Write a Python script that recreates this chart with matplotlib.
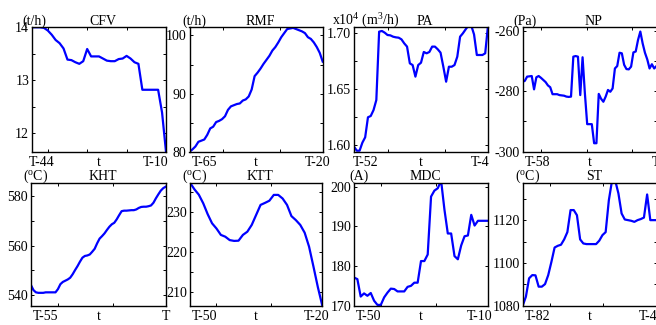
import numpy as np
import matplotlib
matplotlib.use("Agg")
import matplotlib.pyplot as plt

plt.rcParams['font.family'] = ['Liberation Serif', 'DejaVu Serif']
plt.rcParams['mathtext.fontset'] = 'custom'
plt.rcParams['mathtext.rm'] = 'Liberation Serif'
plt.rcParams['mathtext.it'] = 'Liberation Serif:italic'

# ---------------- data ----------------
cfv_start, cfv_end = -44, -10
cfv = [14.0, 14.0, 14.0, 13.99, 13.94, 13.86, 13.76, 13.70, 13.60, 13.39, 13.38, 13.34,
       13.31, 13.36, 13.59, 13.45, 13.45, 13.45, 13.41, 13.37, 13.36, 13.36, 13.40, 13.41,
       13.46, 13.41, 13.34, 13.31, 12.82, 12.82, 12.82, 12.82, 12.82, 12.39, 11.65]

rmf_start, rmf_end = -65, -20
rmf = [80.0, 80.4, 80.9, 81.7, 81.9, 82.1, 82.9, 84.0, 84.3, 85.1, 85.3, 85.6, 86.1, 87.2,
       87.8, 88.0, 88.2, 88.3, 88.8, 89.0, 89.5, 90.7, 93.0, 93.6, 94.3, 95.1, 95.8, 96.5,
       97.4, 98.0, 98.8, 99.7, 100.4, 101.1, 101.2, 101.3, 101.1, 100.9, 100.7, 100.4, 99.7,
       99.4, 98.8, 98.0, 97.0, 95.5]

pa_start, pa_end = -52, -4
pa = [1.5985, 1.5949, 1.5949, 1.6021, 1.6069, 1.6248, 1.6260, 1.6313, 1.6403, 1.7015,
      1.7021, 1.7006, 1.6985, 1.6982, 1.6970, 1.6964, 1.6961, 1.6946, 1.6910, 1.6881,
      1.6731, 1.6716, 1.6612, 1.6716, 1.6737, 1.6833, 1.6821, 1.6833, 1.6881, 1.6881,
      1.6857, 1.6827, 1.6701, 1.6567, 1.6701, 1.6701, 1.6716, 1.6791, 1.6970, 1.7000,
      1.7036, 1.7070, 1.7070, 1.6990, 1.6806, 1.6806, 1.6806, 1.6821, 1.7070]

np_start, np_end = -58, 0
npv = [-276.9, -276.6, -275.2, -275.1, -275.0, -279.4, -275.4, -275.0, -275.6, -276.3,
       -277.0, -278.1, -278.7, -281.0, -281.0, -281.0, -281.3, -281.4, -281.5, -281.8,
       -281.9, -281.8, -268.6, -268.4, -268.6, -281.3, -268.8, -280.7, -290.9, -290.9,
       -290.9, -297.2, -297.2, -280.9, -282.5, -283.5, -281.8, -279.6, -280.2, -279.1,
       -272.5, -271.7, -267.3, -267.5, -271.3, -272.7, -272.8, -271.9, -267.2, -266.9,
       -263.1, -260.3, -264.2, -267.3, -269.5, -272.5, -271.1, -272.5, -271.7]

kht_start, kht_end = -55, 0
kht = [544.0, 542.0, 541.1, 540.9, 540.9, 540.9, 541.1, 541.1, 541.1, 541.1, 541.1, 542.4,
       544.4, 545.3, 545.8, 546.3, 547.0, 548.4, 550.1, 551.7, 553.5, 555.1, 555.8, 556.0,
       556.4, 557.5, 558.7, 560.9, 562.8, 563.8, 564.9, 566.3, 567.6, 568.6, 569.2, 570.6,
       572.3, 573.9, 574.1, 574.1, 574.2, 574.3, 574.3, 574.6, 575.2, 575.6, 575.7, 575.7,
       575.9, 576.2, 577.3, 579.1, 580.7, 582.2, 583.2, 583.8]

ktt_start, ktt_end = -50, -20
ktt = [237.25, 235.6, 234.25, 232.1, 229.4, 227.1, 225.8, 224.2, 223.75, 222.9, 222.7,
       222.75, 224.2, 225.0, 226.7, 229.2, 231.7, 232.2, 232.75, 234.2, 234.2, 233.3, 231.7,
       228.9, 227.9, 226.7, 224.75, 221.25, 216.25, 211.1, 206.5]

mdc_start, mdc_end = -50, -10
mdc = [177.1, 176.7, 172.3, 173.1, 172.5, 173.2, 171.25, 170.2, 170.2, 172.1, 173.3, 174.3,
       174.2, 173.6, 173.6, 173.6, 174.75, 175.0, 175.8, 175.8, 181.25, 181.25, 182.9, 197.5,
       199.0, 199.6, 201.5, 194.2, 188.2, 188.2, 182.5, 181.7, 185.2, 187.5, 187.7, 192.9,
       190.2, 191.4, 191.4, 191.4, 191.4]

st_start, st_end = -82, -40
st = [1080.0, 1084.2, 1092.8, 1094.3, 1094.2, 1088.9, 1088.9, 1090.1, 1094.3, 1100.5,
      1107.2, 1108.0, 1108.5, 1111.0, 1114.4, 1124.7, 1124.7, 1122.3, 1111.0, 1109.1,
      1108.8, 1108.8, 1108.8, 1108.8, 1110.4, 1113.0, 1114.4, 1129.3, 1138.5, 1138.5,
      1132.5, 1123.1, 1120.3, 1120.0, 1119.7, 1119.2, 1120.0, 1120.5, 1121.2, 1132.0,
      1120.0, 1120.0, 1120.0]

titles = ["CFV", "RMF", "PA", "NP", "KHT", "KTT", "MDC", "ST"]
units = ["(t/h)", "(t/h)", r"x10$^4$ (m$^3$/h)", "(Pa)",
         r"($^{\rm o}$C)", r"($^{\rm o}$C)", "(A)", r"($^{\rm o}$C)"]
left_labels = ["T-44", "T-65", "T-52", "T-58", "T-55", "T-50", "T-50", "T-82"]
right_labels = ["T-10", "T-20", "T-4", "T", "T", "T-20", "T-10", "T-40"]

series = [(cfv_start, cfv_end, cfv), (rmf_start, rmf_end, rmf), (pa_start, pa_end, pa),
          (np_start, np_end, npv), (kht_start, kht_end, kht), (ktt_start, ktt_end, ktt),
          (mdc_start, mdc_end, mdc), (st_start, st_end, st)]

ylims = [(11.65, 14.0), (80, 101.4), (1.594, 1.7054), (-300, -258.9),
         (535.7, 585.4), (206.5, 237.25), (170.2, 201.0), (1080, 1137.5)]
yticks = [[12, 13, 14], [80, 90, 100], [1.60, 1.65, 1.70], [-300, -280, -260],
          [540, 560, 580], [210, 220, 230], [170, 180, 190, 200], [1080, 1100, 1120]]
yticklabels = [["12", "13", "14"], ["80", "90", "100"], ["1.60", "1.65", "1.70"],
               ["-300", "-280", "-260"], ["540", "560", "580"], ["210", "220", "230"],
               ["170", "180", "190", "200"], ["1080", "1100", "1120"]]
yminor = [[12.5, 13.5], [85, 95], [1.625, 1.675], [-290, -270], [550, 570], [215, 225, 235],
          [], [1090, 1110, 1130]]
# x tick positions (fraction of the axis span)
xtick_frac = [[0.12, 0.41, 0.71], [0.25, 0.68], [0.25, 0.68], [0.137, 0.48, 0.82],
              [0.2, 0.61], [0.2, 0.61], [0.2, 0.61], [0.2, 0.6]]
unit_x = [-0.07, -0.055, -0.164, -0.07, -0.062, -0.063, -0.037, -0.057]
left_lab_x = [0.072, 0.11, 0.09, 0.113, 0.11, 0.11, 0.11, 0.11]
right_lab_x = [0.925, 0.96, 0.94, 1.0, 1.0, 0.96, 0.94, 0.96]

# axes rectangles in pixels (left, top, right, bottom) of a 656x325 figure
W, H = 656, 325
rects = [(32, 27.3, 166, 151.7), (189.5, 27.3, 322.7, 151.7), (354, 27.3, 488, 151.7),
         (522.5, 27.3, 656.5, 151.7),
         (31, 182.7, 165.7, 305.7), (190, 182.7, 322.3, 305.7), (354, 182.7, 488, 305.7),
         (522.7, 182.7, 656.7, 305.7)]

fig = plt.figure(figsize=(W / 100, H / 100), dpi=100)
FS = 10
for i, (s0, s1, vals) in enumerate(series):
    l, t, r, b = rects[i]
    ax = fig.add_axes([l / W, 1 - b / H, (r - l) / W, (b - t) / H])
    x = np.arange(s0, s1 + 1)
    ax.plot(x, vals, color='#0000ff', lw=1.6, clip_on=True)
    ax.set_xlim(s0, s1)
    ax.set_ylim(*ylims[i])
    ax.set_yticks(yticks[i])
    ax.set_yticklabels(yticklabels[i], fontsize=FS)
    ax.set_yticks(yminor[i], minor=True)
    span = s1 - s0
    ax.set_xticks([s0 + f * span for f in xtick_frac[i]])
    ax.set_xticklabels([])
    ax.tick_params(which='both', direction='in', top=True, right=True, length=2.2,
                   width=0.7, pad=2)
    for sp in ax.spines.values():
        sp.set_linewidth(1.0)
    ax.text(0.53, 1.02, titles[i], transform=ax.transAxes, ha='center', va='baseline',
            fontsize=FS)
    ax.text(unit_x[i], 1.02, units[i], transform=ax.transAxes, ha='left', va='baseline',
            fontsize=FS)
    ax.text(left_lab_x[i], -0.035, left_labels[i], transform=ax.transAxes, ha='center',
            va='top', fontsize=FS)
    ax.text(0.5, -0.035, "t", transform=ax.transAxes, ha='center', va='top', fontsize=FS)
    ax.text(right_lab_x[i], -0.035, right_labels[i], transform=ax.transAxes, ha='center',
            va='top', fontsize=FS)

fig.savefig("out.png", dpi=100)
